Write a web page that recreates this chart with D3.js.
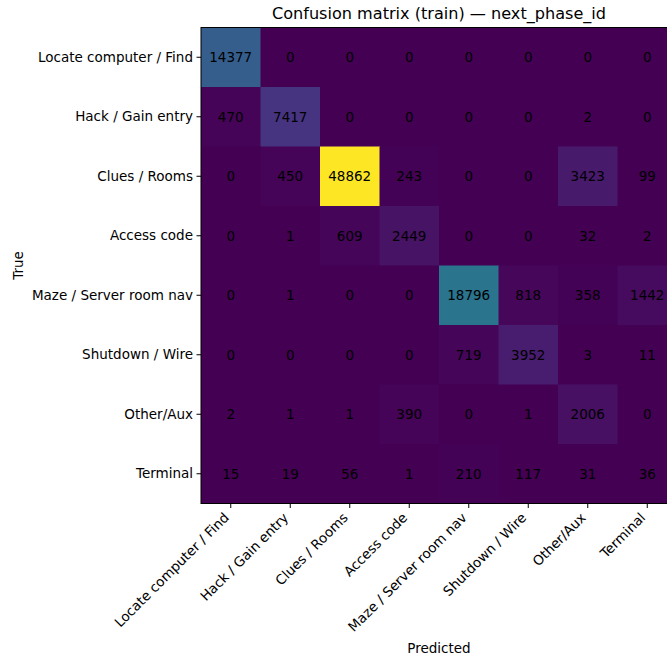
<!DOCTYPE html>
<html>
<head>
<meta charset="utf-8">
<script src="https://cdn.jsdelivr.net/npm/d3@7"></script>
<style>
  html, body { margin: 0; padding: 0; background: #fff; overflow: hidden; }
  svg { display: block; font-family: "DejaVu Sans", sans-serif; }
</style>
</head>
<body>
<svg id="chart" width="667" height="657"></svg>
<script>
// Phase classes (rows = true, columns = predicted)
const classes = [
  "Locate computer / Find",
  "Hack / Gain entry",
  "Clues / Rooms",
  "Access code",
  "Maze / Server room nav",
  "Shutdown / Wire",
  "Other/Aux",
  "Terminal"
];

// Counts per true class, one array per row
const rowLocate   = [14377, 0, 0, 0, 0, 0, 0, 0];
const rowHack     = [470, 7417, 0, 0, 0, 0, 2, 0];
const rowClues    = [0, 450, 48862, 243, 0, 0, 3423, 99];
const rowAccess   = [0, 1, 609, 2449, 0, 0, 32, 2];
const rowMaze     = [0, 1, 0, 0, 18796, 818, 358, 1442];
const rowShutdown = [0, 0, 0, 0, 719, 3952, 3, 11];
const rowOther    = [2, 1, 1, 390, 0, 1, 2006, 0];
const rowTerminal = [15, 19, 56, 1, 210, 117, 31, 36];

const matrix = [rowLocate, rowHack, rowClues, rowAccess, rowMaze, rowShutdown, rowOther, rowTerminal];

const titleText = "Confusion matrix (train) \u2014 next_phase_id";
const xTitle = "Predicted";
const yTitle = "True";

const FONT = "DejaVu Sans, sans-serif";
const svg = d3.select("#chart");
const plotLeft = 201, plotTop = 27.5, cell = 59.5;
const size = cell * classes.length;

const x = d3.scaleBand().domain(d3.range(classes.length)).range([plotLeft, plotLeft + size]);
const y = d3.scaleBand().domain(d3.range(classes.length)).range([plotTop, plotTop + size]);
const maxVal = d3.max(matrix.flat());
const color = d3.scaleSequential(d3.interpolateViridis).domain([0, maxVal]);

const cells = [];
matrix.forEach((row, i) => row.forEach((v, j) => cells.push({ i, j, v })));

svg.append("g").selectAll("rect")
  .data(cells)
  .join("rect")
  .attr("x", d => x(d.j))
  .attr("y", d => y(d.i))
  .attr("width", x.bandwidth() + 0.5)
  .attr("height", y.bandwidth() + 0.5)
  .attr("fill", d => color(d.v));

svg.append("g").selectAll("text")
  .data(cells)
  .join("text")
  .attr("x", d => x(d.j) + x.bandwidth() / 2)
  .attr("y", d => y(d.i) + y.bandwidth() / 2)
  .attr("text-anchor", "middle")
  .attr("dy", "0.36em")
  .attr("font-size", 13.5)
  .attr("fill", "#000")
  .text(d => d.v);

// frame
svg.append("rect")
  .attr("x", plotLeft).attr("y", plotTop)
  .attr("width", size).attr("height", size)
  .attr("fill", "none").attr("stroke", "#000").attr("stroke-width", 1);

// axes
const xAxis = d3.axisBottom(x).tickSize(4.5).tickPadding(3).tickFormat(i => classes[i]);
const gx = svg.append("g")
  .attr("transform", `translate(0,${plotTop + size})`)
  .call(xAxis)
  .attr("font-family", FONT)
  .attr("font-size", 13.5);
gx.select(".domain").remove();
gx.selectAll("line").attr("stroke", "#000");
gx.selectAll("text")
  .attr("fill", "#000")
  .attr("text-anchor", "end")
  .attr("y", 0)
  .attr("dy", 0)
  .attr("transform", "translate(-1,15) rotate(-45)");

const yAxis = d3.axisLeft(y).tickSize(4.5).tickPadding(3.5).tickFormat(i => classes[i]);
const gy = svg.append("g")
  .attr("transform", `translate(${plotLeft},0)`)
  .call(yAxis)
  .attr("font-family", FONT)
  .attr("font-size", 13.5);
gy.select(".domain").remove();
gy.selectAll("line").attr("stroke", "#000");
gy.selectAll("text").attr("fill", "#000");

svg.append("text")
  .attr("x", plotLeft + size / 2).attr("y", 19)
  .attr("text-anchor", "middle")
  .attr("font-size", 16.1)
  .text(titleText);

svg.append("text")
  .attr("x", plotLeft + size / 2).attr("y", 653)
  .attr("text-anchor", "middle")
  .attr("font-size", 13.5)
  .text(xTitle);

svg.append("text")
  .attr("transform", `translate(23,${plotTop + size / 2}) rotate(-90)`)
  .attr("text-anchor", "middle")
  .attr("font-size", 13.5)
  .text(yTitle);
</script>
</body>
</html>
